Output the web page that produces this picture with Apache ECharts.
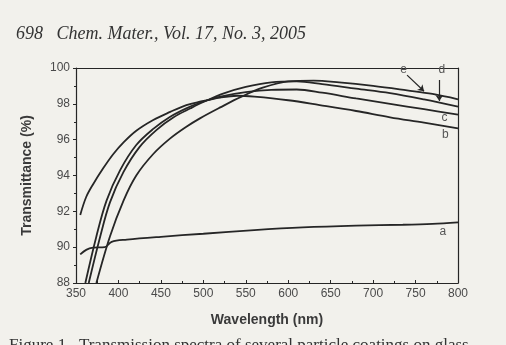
<!DOCTYPE html>
<html>
<head>
<meta charset="utf-8">
<script src="https://cdn.jsdelivr.net/npm/echarts@6/dist/echarts.min.js"></script>
<style>
  html, body { margin: 0; padding: 0; background: #f2f1ec; }
  #chart { width: 506px; height: 345px; }
</style>
</head>
<body>
<div id="chart"></div>
<script>
// wavelength (nm) / transmittance (%)
const aWl = [355, 362, 370, 384, 392, 410, 450, 500, 560, 617, 680, 735, 770, 800];
const aT  = [89.6, 89.85, 89.97, 90.0, 90.3, 90.42, 90.58, 90.75, 90.95, 91.1, 91.2, 91.25, 91.3, 91.38];

const bWl = [355, 362, 370, 382, 394, 406, 421, 441, 461, 480, 496, 520, 540, 560, 600, 637, 680, 720, 760, 800];
const bT  = [91.8, 92.8, 93.5, 94.4, 95.2, 95.85, 96.5, 97.1, 97.55, 97.93, 98.12, 98.35, 98.45, 98.4, 98.2, 97.93, 97.6, 97.25, 96.95, 96.63];

const cWl = [361, 374, 386, 402, 421, 441, 461, 480, 496, 520, 550, 580, 610, 640, 680, 720, 760, 800];
const cT  = [88.0, 90.6, 92.6, 94.3, 95.7, 96.6, 97.28, 97.75, 98.06, 98.4, 98.65, 98.78, 98.8, 98.62, 98.3, 98.0, 97.7, 97.4];

const dWl = [365, 378, 390, 406, 425, 445, 465, 485, 500, 525, 550, 580, 610, 640, 680, 720, 760, 800];
const dT  = [88.0, 90.5, 92.5, 94.2, 95.6, 96.55, 97.25, 97.75, 98.1, 98.6, 98.95, 99.2, 99.25, 99.1, 98.85, 98.6, 98.25, 97.85];

const eWl = [374, 390, 406, 421, 441, 461, 480, 496, 520, 545, 570, 600, 630, 660, 700, 740, 770, 800];
const eT  = [88.0, 90.6, 92.6, 94.0, 95.2, 96.07, 96.72, 97.19, 97.8, 98.4, 98.9, 99.25, 99.3, 99.2, 99.0, 98.75, 98.55, 98.25];

// curve letters and where they sit
const curveNames = ['a', 'b', 'c', 'd', 'e'];
const labelWl = [782, 785, 784, 781, 736];
const labelT  = [90.84, 96.26, 97.2, 99.9, 99.9];

// small arrows for d and e
const arrowE = [[740, 99.6], [760, 98.7]];
const arrowD = [[778, 99.33], [778, 98.16]];

const xTicks = [350, 400, 450, 500, 550, 600, 650, 700, 750, 800];
const yTicks = [88, 90, 92, 94, 96, 98, 100];

const ink = '#262626';
const pairs = (wl, t) => wl.map((w, i) => [w, t[i]]);
const curves = [pairs(aWl, aT), pairs(bWl, bT), pairs(cWl, cT), pairs(dWl, dT), pairs(eWl, eT)];

const chart = echarts.init(document.getElementById('chart'), null, { renderer: 'canvas' });

const series = curves.map((data, i) => ({
  name: curveNames[i],
  type: 'line',
  data,
  smooth: 0.35,
  symbol: 'none',
  clip: true,
  lineStyle: { color: ink, width: 1.8 },
  markPoint: {
    symbol: 'circle',
    symbolSize: 0,
    data: [{ coord: [labelWl[i], labelT[i]], value: curveNames[i] }],
    label: {
      show: true,
      formatter: curveNames[i],
      color: '#555',
      fontSize: 12,
      fontFamily: 'Liberation Sans'
    }
  },
  markLine: i === 3 || i === 4 ? {
    silent: true,
    symbol: ['none', 'arrow'],
    symbolSize: 6,
    lineStyle: { color: ink, width: 1.2, type: 'solid' },
    label: { show: false },
    data: [i === 4 ? arrowE.map(c => ({ coord: c })) : arrowD.map(c => ({ coord: c }))]
  } : undefined
}));

chart.setOption({
  backgroundColor: '#f2f1ec',
  animation: false,
  title: {
    text: '698   Chem. Mater., Vol. 17, No. 3, 2005',
    left: 11,
    top: 20,
    textStyle: {
      fontFamily: 'Liberation Serif',
      fontStyle: 'italic',
      fontWeight: 'normal',
      fontSize: 18,
      color: '#333'
    }
  },
  graphic: [{
    type: 'text',
    left: 9,
    top: 337,
    style: {
      text: 'Figure 1.  Transmission spectra of several particle coatings on glass',
      font: '17px "Liberation Serif"',
      fill: '#333'
    }
  }],
  grid: { left: 76, right: 48, top: 68, bottom: 62 },
  xAxis: [{
    type: 'value',
    min: 350,
    max: 800,
    interval: 50,
    name: 'Wavelength (nm)',
    nameLocation: 'middle',
    nameGap: 30,
    nameTextStyle: { fontFamily: 'Liberation Sans', fontWeight: 'bold', fontSize: 14, color: '#3a3a3a' },
    axisLine: { lineStyle: { color: ink, width: 1.2 } },
    axisTick: { inside: true, length: 3, lineStyle: { color: ink } },
    minorTick: { show: true, splitNumber: 2, length: 2, lineStyle: { color: ink } },
    axisLabel: {
      fontFamily: 'Liberation Sans', fontSize: 12, color: '#4a4a4a', margin: 5,
      customValues: xTicks
    },
    splitLine: { show: false }
  }, {
    type: 'value',
    position: 'top',
    min: 350,
    max: 800,
    axisLine: { show: true, lineStyle: { color: ink, width: 1.2 } },
    axisTick: { show: false },
    axisLabel: { show: false },
    splitLine: { show: false }
  }],
  yAxis: [{
    type: 'value',
    min: 88,
    max: 100,
    interval: 2,
    name: 'Transmittance (%)',
    nameLocation: 'middle',
    nameGap: 42,
    nameTextStyle: { fontFamily: 'Liberation Sans', fontWeight: 'bold', fontSize: 14, color: '#3a3a3a' },
    axisLine: { show: true, lineStyle: { color: ink, width: 1.2 } },
    axisTick: { show: true, length: 3, lineStyle: { color: ink } },
    minorTick: { show: true, splitNumber: 2, length: 2, lineStyle: { color: ink } },
    axisLabel: {
      fontFamily: 'Liberation Sans', fontSize: 12, color: '#4a4a4a', margin: 6,
      customValues: yTicks
    },
    splitLine: { show: false }
  }, {
    type: 'value',
    position: 'right',
    min: 88,
    max: 100,
    axisLine: { show: true, lineStyle: { color: ink, width: 1.2 } },
    axisTick: { show: false },
    axisLabel: { show: false },
    splitLine: { show: false }
  }],
  series
});
</script>
</body>
</html>
